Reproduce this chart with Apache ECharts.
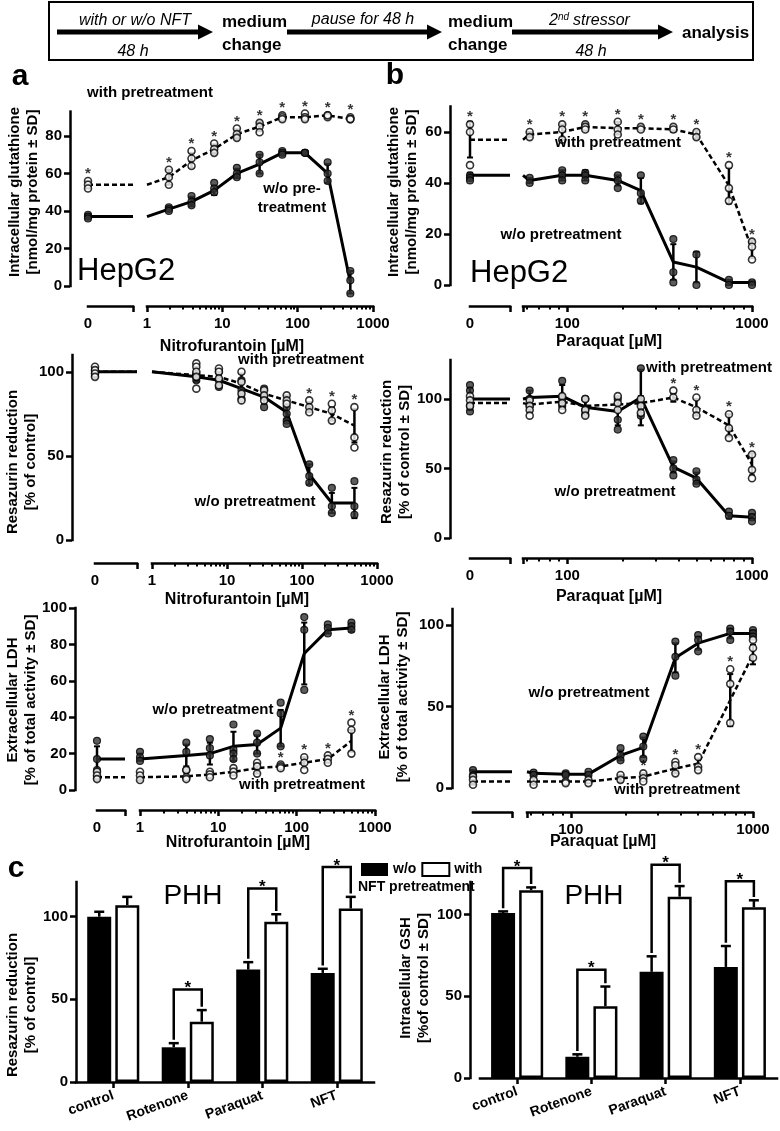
<!DOCTYPE html>
<html>
<head>
<meta charset="utf-8">
<script src="https://cdn.jsdelivr.net/npm/echarts@6.0.0/dist/echarts.min.js"></script>
<style>
html,body{margin:0;padding:0;background:#fff;}
#chart{width:780px;height:1131px;}
</style>
</head>
<body>
<div id="chart"></div>
<script>
// ======================= DATA =======================
// concentrations (µM)
const nftDoseGSH = [0, 1.95, 3.9, 7.8, 15.6, 31.25, 62.5, 125, 250, 500];
const nftDoseRes = [0, 3.9, 7.8, 15.6, 31.25, 62.5, 125, 250, 500];
const nftDoseLDH = [0, 1, 3.9, 7.8, 15.6, 31.25, 62.5, 125, 250, 500];
const pqDose = [0, 62.5, 93.75, 125, 187.5, 250, 375, 500, 750, 1000];

// x tick values
const nftTickLabels = [1, 10, 100, 1000];
const nftMajorTicks = [1, 10, 100, 1000];
const nftMinorTicks = [2,3,4,5,6,7,8,9,20,30,40,50,60,70,80,90,200,300,400,500,600,700,800,900];
const pqTickLabels = [100, 1000];
const pqMajorTicks = [57.5, 100, 1000];
const pqMinorTicks = [60,70,80,90,200,300,400,500,600,700,800,900];

// y tick values
const yTicksA1 = [0, 20, 40, 60, 80];
const yTicksB1 = [0, 20, 40, 60];
const yTicks50 = [0, 50, 100];
const yTicksA3 = [0, 20, 40, 60, 80, 100];

// a1: HepG2 GSH vs nitrofurantoin
const a1WithMean = [54, 58, 67, 73, 81, 85, 90, 90, 91, 89];
const a1WithSD   = [2, 4, 4, 2.5, 2.5, 2.5, 1, 1.5, 0.5, 0.5];
const a1WithReps = [[56,54,52],[62,58,54],[72,68,64],[76,73,71],[84,81,79],[87,85,82],[91,90,89],[92,90,89],[91,90,91],[90,89,89]];
const a1WoMean   = [37, 41, 45, 51, 60, 65, 71, 71, 60, 2];
const a1WoSD     = [1, 1, 2.5, 2.5, 2.5, 5, 1, 0.5, 5, 6];
const a1WoReps   = [[38,37,36],[42,41,40],[48,45,43],[55,52,50],[63,60,58],[70,66,60],[72,71,70],[71,71,71],[66,60,56],[8,3,-4]];
const a1Stars    = [1,1,1,1,1,1,1,1,1,1];

// a2: resazurin vs nitrofurantoin
const a2WithMean = [100, 98, 97, 93, 87, 83, 79, 75, 68];
const a2WithSD   = [2, 4, 4, 6, 3, 3, 3, 4, 10];
const a2WithReps = [[103,101,99,97],[105,103,100,97,90],[102,100,96,92],[100,94,87,83],[89,86,83],[86,83,81],[83,79,76],[81,77,71],[79,61,55]];
const a2WoMean   = [100, 97, 95, 90, 85, 76, 39, 22, 22];
const a2WoSD     = [1, 2, 3, 4, 4, 4, 6, 6, 9];
const a2WoReps   = [[101,100,99,98],[99,97,95],[100,95,91],[95,89,84],[90,85,79],[79,75,71,69],[45,38,34],[31,20,16],[35,20,15]];
const a2Stars    = [0,0,0,0,0,0,1,1,1];

// a3: LDH vs nitrofurantoin
const a3WithMean = [7, 7, 7.5, 8.5, 10, 12, 13, 15, 17, 27];
const a3WithSD   = [2, 2, 2, 2, 2, 3, 1.5, 3, 2, 6];
const a3WithReps = [[10,8,6],[10,8,5.5],[11,7,6],[10,8.5,7],[12,10,8],[15,13,9],[14,13,12],[18,15,11],[19,17,15],[37,33,20]];
const a3WoMean   = [17, 18, 19, 20, 24, 25, 34, 75, 88, 89];
const a3WoSD     = [7, 2, 6, 6, 8, 5, 10, 17, 2, 2];
const a3WoReps   = [[27,17,11,7],[21,18,16],[26,21,11],[28,23,19],[36,22,20,17],[31,26,20],[48,42,24],[95,88,55],[91,89,86],[92,90,88]];
const a3Stars    = [0,0,0,0,0,0,1,1,1,1];

// b1: GSH vs paraquat
const b1WithMean = [57, 59, 60, 62, 61.5, 61.5, 61, 59, 39, 14];
const b1WithSD   = [7, 1, 3, 1.5, 2.5, 1, 1, 1.5, 7, 3.5];
const b1WithReps = [[63,60,47],[60,58],[63,61,57],[63,62,61],[64,61,59],[62,61],[62,61],[60,58],[47,38,33],[17,15,10]];
const b1WoMean   = [43, 41, 43, 43, 41, 37, 9, 7, 1, 1];
const b1WoSD     = [1, 1, 2, 2, 2, 5, 7, 6, 1, 0.5];
const b1WoReps   = [[43,42,41],[42,40],[45,43,41],[44,43,41],[43,41,38],[43,36,33],[18,5,1],[12,0],[2,0],[1,0]];
const b1Stars    = [1,1,1,1,1,1,1,1,1,1];

// b2: resazurin vs paraquat
const b2WithMean = [97, 96, 98, 95, 96, 97, 101, 94, 81, 53];
const b2WithSD   = [3, 5, 5, 6, 5, 5, 3, 6, 8, 8];
const b2WithReps = [[102,99,95],[99,95,92,88],[102,97,92],[100,92,88],[102,97,92],[100,95,90],[106,101],[101,92,88],[89,79,72],[60,49,43]];
const b2WoMean   = [100, 101, 102, 94, 91, 101, 51, 43, 16, 15];
const b2WoSD     = [8, 5, 8, 5, 10, 20, 4, 4, 2, 2];
const b2WoReps   = [[110,106,95,91],[106,100,95],[113,100,95],[100,92,89],[100,85,78],[122,97,88],[56,50,45],[48,42,39],[19,16],[18,15,12]];
const b2Stars    = [0,0,0,0,0,0,1,1,1,1];

// b3: LDH vs paraquat
const b3WithMean = [4, 4, 4, 4, 6, 7, 12, 15, 54, 82];
const b3WithSD   = [2, 2, 1, 1, 2, 2, 3, 3, 16, 6];
const b3WithReps = [[7,5,2],[5,2],[4,3],[5,3],[8,5],[9,6,4],[16,14,9],[19,13,11],[73,64,40],[91,86,80]];
const b3WoMean   = [10, 9, 8.5, 8.5, 20, 25, 80, 89, 95, 95];
const b3WoSD     = [1, 1, 1, 1, 3, 6, 9, 4, 3, 2];
const b3WoReps   = [[11,8],[9.5,8],[9,8],[10,8],[24.5,20,17],[31.6,25.5,18],[90,80.6,69],[94,91,84],[98,96,91],[97,95,93]];
const b3Stars    = [0,0,0,0,0,1,1,1,1,0];

// c: PHH bar charts
const barCats = ['control', 'Rotenone', 'Paraquat', 'NFT'];
const c1WoMean   = [100, 21, 68, 66];
const c1WoSD     = [3, 2.5, 4.5, 2.5];
const c1WithMean = [107, 36.5, 97, 105];
const c1WithSD   = [5, 7, 4.5, 7];
const c1Bracket  = [null, 56, 117, 130];
const c2WoMean   = [101, 13, 65, 68];
const c2WoSD     = [1, 1.5, 9.5, 12.8];
const c2WithMean = [115, 44, 111, 104.5];
const c2WithSD   = [1.7, 12, 6.5, 4.3];
const c2Bracket  = [128.6, 66.3, 130.6, 120.4];

// ======================= BUILD =======================
const FONT = '"Liberation Sans", Arial, Helvetica, sans-serif';
const BLACK = '#000';
const grids = [], xAxes = [], yAxes = [], series = [], G = [];

function axisLine() { return { show: true, onZero: false, lineStyle: { color: BLACK, width: 2.5, cap: 'square' } }; }
function ticks(len, w, vals) { return { show: true, length: len, inside: false, customValues: vals, lineStyle: { color: BLACK, width: w } }; }
function labels(vals, extra) { return Object.assign({ show: true, color: BLACK, fontFamily: FONT, fontWeight: 'bold', fontSize: 15, customValues: vals }, extra || {}); }

function errRender(params, api) {
  const x = api.value(0), m = api.value(1), s = api.value(2);
  const p1 = api.coord([x, m + s]), p2 = api.coord([x, m - s]);
  const w = 3;
  return { type: 'group', children: [
    { type: 'line', shape: { x1: p1[0], y1: p1[1], x2: p2[0], y2: p2[1] }, style: { stroke: BLACK, lineWidth: 2.5 } },
    { type: 'line', shape: { x1: p1[0] - w, y1: p1[1], x2: p1[0] + w, y2: p1[1] }, style: { stroke: BLACK, lineWidth: 2 } },
    { type: 'line', shape: { x1: p2[0] - w, y1: p2[1], x2: p2[0] + w, y2: p2[1] }, style: { stroke: BLACK, lineWidth: 2 } }
  ]};
}

const LINE_BASE = { symbol: 'none', showSymbol: false, z: 2, clip: false, silent: true, animation: false };

function doseChart(L, D) {
  const g = grids.length, xi = xAxes.length, yi = yAxes.length;
  const h = L.zeroY - L.topY;
  grids.push({ left: L.seg0[0], top: L.topY, width: L.seg0[1] - L.seg0[0], height: h });
  grids.push({ left: L.seg1[0], top: L.topY, width: L.seg1[1] - L.seg1[0], height: h });
  yAxes.push({ gridIndex: g, type: 'value', min: 0, max: L.yMax, position: 'left', offset: L.seg0[0] - L.yAxisX,
    axisLine: axisLine(), axisTick: ticks(6, 2.5, D.yTicks), axisLabel: labels(D.yTicks, { margin: 8 }), splitLine: { show: false } });
  yAxes.push({ gridIndex: g + 1, type: 'value', min: 0, max: L.yMax, show: false, axisLine: { onZero: false } });
  xAxes.push({ gridIndex: g, type: 'value', min: 0, max: 1, position: 'bottom', offset: L.xOff,
    axisLine: axisLine(), axisTick: ticks(6, 2.5, [1]), axisLabel: labels([0], { margin: 10, formatter: () => '0' }), splitLine: { show: false } });
  xAxes.push({ gridIndex: g + 1, type: 'log', logBase: 10, min: L.logMin, max: L.logMax, position: 'bottom', offset: L.xOff,
    axisLine: axisLine(), axisTick: ticks(3.5, 2, D.minorTicks), axisLabel: { show: false }, splitLine: { show: false }, minorTick: { show: false } });
  xAxes.push({ gridIndex: g + 1, type: 'log', logBase: 10, min: L.logMin, max: L.logMax, position: 'bottom', offset: L.xOff,
    axisLine: { show: false, onZero: false }, axisTick: ticks(6, 2.5, D.majorTicks), axisLabel: labels(D.tickLabels, { margin: 10, formatter: v => String(Math.round(v)) }), splitLine: { show: false } });

  const left = { xAxisIndex: xi, yAxisIndex: yi };
  const right = { xAxisIndex: xi + 1, yAxisIndex: yi + 1 };
  const withL = [[0, D.withMean[0]], [1, D.withMean[0]]];
  const woL = [[0, D.woMean[0]], [1, D.woMean[0]]];
  const withR = [[L.logMin, D.withMean[0]]], woR = [[L.logMin, D.woMean[0]]];
  const errL = [], errR = [], wpL = [], wpR = [], opL = [], opR = [], stL = [], stR = [];
  D.dose.forEach((x, i) => {
    const isL = x === 0;
    if (!isL) { withR.push([x, D.withMean[i]]); woR.push([x, D.woMean[i]]); }
    (isL ? errL : errR).push([x, D.withMean[i], D.withSD[i]], [x, D.woMean[i], D.woSD[i]]);
    D.withReps[i].forEach(v => (isL ? opL : opR).push([x, v]));
    D.woReps[i].forEach(v => (isL ? wpL : wpR).push([x, v]));
    if (D.stars[i]) (isL ? stL : stR).push([x, Math.max.apply(null, D.withReps[i])]);
  });
  [[left, withL, woL, errL, wpL, opL, stL], [right, withR, woR, errR, wpR, opR, stR]].forEach(function (p) {
    const ax = p[0];
    series.push(Object.assign({ type: 'line', data: p[1], lineStyle: { color: BLACK, width: 2.5, type: [5, 3] } }, LINE_BASE, ax));
    series.push(Object.assign({ type: 'line', data: p[2], lineStyle: { color: BLACK, width: 3 } }, LINE_BASE, ax));
    series.push(Object.assign({ type: 'custom', data: p[3], renderItem: errRender, encode: { x: 0, y: 1 }, z: 3, clip: false, silent: true }, ax));
    series.push(Object.assign({ type: 'scatter', data: p[4], symbol: 'circle', symbolSize: 7, itemStyle: { color: '#333', borderColor: BLACK, borderWidth: 1.2 }, z: 4, clip: false, silent: true }, ax));
    series.push(Object.assign({ type: 'scatter', data: p[5], symbol: 'circle', symbolSize: 7, itemStyle: { color: '#fff', borderColor: BLACK, borderWidth: 1.6 }, z: 5, clip: false, silent: true }, ax));
    series.push(Object.assign({ type: 'scatter', data: p[6], symbol: 'circle', symbolSize: 1, itemStyle: { color: 'rgba(0,0,0,0)' },
      label: { show: true, formatter: '*', position: 'inside', offset: [0, -7], color: BLACK, fontSize: 15, fontWeight: 'bold', fontFamily: FONT }, z: 6, clip: false, silent: true }, ax));
  });
}

const BAR_OFF = 14;
function barErrRender(params, api) {
  const i = api.value(0), m = api.value(1), s = api.value(2), side = api.value(3);
  const c = api.coord([i, m]); const t = api.coord([i, m + s]);
  const x = c[0] + side * BAR_OFF;
  return { type: 'group', children: [
    { type: 'line', shape: { x1: x, y1: c[1], x2: x, y2: t[1] }, style: { stroke: BLACK, lineWidth: 2.5 } },
    { type: 'line', shape: { x1: x - 5, y1: t[1], x2: x + 5, y2: t[1] }, style: { stroke: BLACK, lineWidth: 2.5 } }
  ]};
}
function bracketRender(params, api) {
  const i = api.value(0);
  const top = api.coord([i, api.value(1)]), lb = api.coord([i, api.value(2)]), rb = api.coord([i, api.value(3)]);
  const xl = top[0] - BAR_OFF, xr = top[0] + BAR_OFF;
  return { type: 'group', children: [
    { type: 'polyline', shape: { points: [[xl, lb[1]], [xl, top[1]], [xr, top[1]], [xr, rb[1]]] }, style: { stroke: BLACK, lineWidth: 2.5, fill: null } },
    { type: 'text', x: top[0], y: top[1] - 1, style: { text: '*', font: 'bold 17px ' + FONT, fill: BLACK, align: 'center', verticalAlign: 'middle', textAlign: 'center', textVerticalAlign: 'middle' } }
  ]};
}

function barChart(L, D) {
  const g = grids.length, xi = xAxes.length, yi = yAxes.length;
  grids.push({ left: L.left, top: L.top, width: L.width, height: L.height });
  xAxes.push({ gridIndex: g, type: 'category', data: barCats, position: 'bottom', boundaryGap: true,
    axisLine: axisLine(), axisTick: { show: true, alignWithLabel: true, length: 6, lineStyle: { color: BLACK, width: 2.5 } },
    axisLabel: { interval: 0, rotate: 20, margin: 13, color: BLACK, fontFamily: FONT, fontWeight: 'bold', fontSize: 14 } });
  yAxes.push({ gridIndex: g, type: 'value', min: 0, max: L.yMax, position: 'left', offset: L.yOff,
    axisLine: axisLine(), axisTick: ticks(6, 2.5, yTicks50), axisLabel: labels(yTicks50, { margin: 8 }), splitLine: { show: false } });
  const ax = { xAxisIndex: xi, yAxisIndex: yi };
  series.push(Object.assign({ type: 'bar', name: 'w/o', data: D.woMean, barWidth: 24, barGap: '17%', itemStyle: { color: BLACK }, z: 2, silent: true }, ax));
  series.push(Object.assign({ type: 'bar', name: 'with', data: D.withMean, barWidth: 24, barGap: '17%', itemStyle: { color: '#fff', borderColor: BLACK, borderWidth: 2.5 }, z: 2, silent: true }, ax));
  const err = D.woMean.map((m, i) => [i, m, D.woSD[i], -1]).concat(D.withMean.map((m, i) => [i, m, D.withSD[i], 1]));
  series.push(Object.assign({ type: 'custom', data: err, renderItem: barErrRender, encode: { x: 0, y: 1 }, z: 3, silent: true }, ax));
  const br = [];
  D.bracket.forEach((t, i) => { if (t != null) br.push([i, t, D.woMean[i] + D.woSD[i] + 2, D.withMean[i] + D.withSD[i] + 2]); });
  series.push(Object.assign({ type: 'custom', data: br, renderItem: bracketRender, encode: { x: 0, y: 1 }, z: 4, clip: false, silent: true }, ax));
}

// ---------- charts ----------
doseChart({ yAxisX: 70, seg0: [88, 133], seg1: [147, 373], topY: 111.6, zeroY: 286, yMax: 93, xOff: 20, logMin: 1, logMax: 1000 },
  { dose: nftDoseGSH, yTicks: yTicksA1, tickLabels: nftTickLabels, majorTicks: nftMajorTicks, minorTicks: nftMinorTicks,
    withMean: a1WithMean, withSD: a1WithSD, withReps: a1WithReps, woMean: a1WoMean, woSD: a1WoSD, woReps: a1WoReps, stars: a1Stars });
doseChart({ yAxisX: 72, seg0: [95, 137], seg1: [152, 377], topY: 355, zeroY: 540, yMax: 110, xOff: 23, logMin: 1, logMax: 1000 },
  { dose: nftDoseRes, yTicks: yTicks50, tickLabels: nftTickLabels, majorTicks: nftMajorTicks, minorTicks: nftMinorTicks,
    withMean: a2WithMean, withSD: a2WithSD, withReps: a2WithReps, woMean: a2WoMean, woSD: a2WoSD, woReps: a2WoReps, stars: a2Stars });
doseChart({ yAxisX: 75, seg0: [97, 125], seg1: [140, 375], topY: 608, zeroY: 790, yMax: 100, xOff: 20, logMin: 1, logMax: 1000 },
  { dose: nftDoseLDH, yTicks: yTicksA3, tickLabels: nftTickLabels, majorTicks: nftMajorTicks, minorTicks: nftMinorTicks,
    withMean: a3WithMean, withSD: a3WithSD, withReps: a3WithReps, woMean: a3WoMean, woSD: a3WoSD, woReps: a3WoReps, stars: a3Stars });
doseChart({ yAxisX: 450, seg0: [470, 510], seg1: [523, 752], topY: 106.5, zeroY: 285, yMax: 70, xOff: 21, logMin: 57.5, logMax: 1000 },
  { dose: pqDose, yTicks: yTicksB1, tickLabels: pqTickLabels, majorTicks: pqMajorTicks, minorTicks: pqMinorTicks,
    withMean: b1WithMean, withSD: b1WithSD, withReps: b1WithReps, woMean: b1WoMean, woSD: b1WoSD, woReps: b1WoReps, stars: b1Stars });
doseChart({ yAxisX: 450, seg0: [470, 510], seg1: [523, 752], topY: 360, zeroY: 538, yMax: 128, xOff: 20, logMin: 57.5, logMax: 1000 },
  { dose: pqDose, yTicks: yTicks50, tickLabels: pqTickLabels, majorTicks: pqMajorTicks, minorTicks: pqMinorTicks,
    withMean: b2WithMean, withSD: b2WithSD, withReps: b2WithReps, woMean: b2WoMean, woSD: b2WoSD, woReps: b2WoReps, stars: b2Stars });
doseChart({ yAxisX: 452, seg0: [473, 512], seg1: [527, 753], topY: 609, zeroY: 788, yMax: 110, xOff: 24, logMin: 57.5, logMax: 1000 },
  { dose: pqDose, yTicks: yTicks50, tickLabels: pqTickLabels, majorTicks: pqMajorTicks, minorTicks: pqMinorTicks,
    withMean: b3WithMean, withSD: b3WithSD, withReps: b3WithReps, woMean: b3WoMean, woSD: b3WoSD, woReps: b3WoReps, stars: b3Stars });
barChart({ left: 76, width: 298, top: 882, height: 200, yMax: 121, yOff: 0 },
  { woMean: c1WoMean, woSD: c1WoSD, withMean: c1WithMean, withSD: c1WithSD, bracket: c1Bracket });
barChart({ left: 480, width: 297, top: 882, height: 196, yMax: 120, yOff: 10 },
  { woMean: c2WoMean, woSD: c2WoSD, withMean: c2WithMean, withSD: c2WithSD, bracket: c2Bracket });

// ---------- text & diagram ----------
function txt(x, y, s, o) {
  o = o || {};
  const font = (o.style || 'normal') + ' ' + (o.weight || 'bold') + ' ' + (o.size || 15) + 'px ' + FONT;
  const a = o.align || 'center';
  G.push({ type: 'text', x: x, y: y, rotation: o.rot || 0, z: 100, silent: true,
    style: { text: s, font: font, fill: BLACK, align: a, textAlign: a, verticalAlign: 'middle', textVerticalAlign: 'middle', lineHeight: o.lh || undefined } });
}
function arrow(x0, x1, y) {
  const xh = x1 - 15;
  G.push({ type: 'polygon', silent: true, shape: { points: [[x0, y - 2.5], [xh, y - 2.5], [xh, y - 7.5], [x1, y], [xh, y + 7.5], [xh, y + 2.5], [x0, y + 2.5]] }, style: { fill: BLACK } });
}
G.push({ type: 'rect', silent: true, shape: { x: 49, y: 2, width: 704, height: 58 }, style: { fill: 'none', stroke: BLACK, lineWidth: 2 } });
arrow(57, 213, 32); arrow(287, 442, 32); arrow(512, 673, 32);
const IT = { style: 'italic', weight: 'normal', size: 16 };
txt(135, 21, 'with or w/o NFT', IT);
txt(133, 52, '48 h', IT);
txt(222, 22, 'medium', { align: 'left', size: 17 });
txt(222, 45, 'change', { align: 'left', size: 17 });
txt(363, 20, 'pause for 48 h', IT);
txt(448, 22, 'medium', { align: 'left', size: 17 });
txt(448, 45, 'change', { align: 'left', size: 17 });
txt(549, 21, '2', Object.assign({ align: 'left' }, IT));
txt(558, 17, 'nd', { align: 'left', style: 'italic', weight: 'normal', size: 10 });
txt(573, 21, 'stressor', Object.assign({ align: 'left' }, IT));
txt(591, 52, '48 h', IT);
txt(682, 33, 'analysis', { align: 'left', size: 17 });

// panel letters
txt(20, 77, 'a', { size: 30 });
txt(395, 76, 'b', { size: 30 });
txt(16, 869, 'c', { size: 30 });

// y-axis titles
const ROT = { rot: Math.PI / 2, lh: 18 };
txt(24, 192, 'Intracellular glutathione\n[nmol/mg protein ± SD]', ROT);
txt(403, 192, 'Intracellular glutathione\n[nmol/mg protein ± SD]', ROT);
txt(22, 462, 'Resazurin reduction\n[% of control]', ROT);
txt(396, 452, 'Resazurin reduction\n[% of control ± SD]', ROT);
txt(22, 700, 'Extracellular LDH\n[% of total activity ± SD]', ROT);
txt(394, 697, 'Extracellular LDH\n[% of total activity ± SD]', ROT);
txt(22, 1005, 'Resazurin reduction\n[% of control]', ROT);
txt(415, 978, 'Intracellular GSH\n[%of control ± SD]', ROT);

// x-axis titles
txt(232, 347, 'Nitrofurantoin [µM]', { size: 16 });
txt(237, 600, 'Nitrofurantoin [µM]', { size: 16 });
txt(238, 843, 'Nitrofurantoin [µM]', { size: 16 });
txt(609, 342, 'Paraquat [µM]', { size: 16 });
txt(609, 597, 'Paraquat [µM]', { size: 16 });
txt(603, 842, 'Paraquat [µM]', { size: 16 });

// annotations
txt(150, 93, 'with pretreatment');
txt(292, 189, 'w/o pre-');
txt(292, 208, 'treatment');
txt(77, 271, 'HepG2', { align: 'left', weight: 'normal', size: 31 });
txt(618, 143, 'with pretreatment');
txt(561, 235, 'w/o pretreatment');
txt(470, 273, 'HepG2', { align: 'left', weight: 'normal', size: 31 });
txt(301, 360, 'with pretreatment');
txt(255, 502, 'w/o pretreatment');
txt(709, 368, 'with pretreatment');
txt(615, 492, 'w/o pretreatment');
txt(213, 710, 'w/o pretreatment');
txt(302, 785, 'with pretreatment');
txt(589, 693, 'w/o pretreatment');
txt(677, 790, 'with pretreatment');
txt(193, 896, 'PHH', { weight: 'normal', size: 28 });
txt(594, 896, 'PHH', { weight: 'normal', size: 28 });
txt(358, 887, 'NFT pretreatment', { align: 'left', size: 14 });

const chart = echarts.init(document.getElementById('chart'), null, { renderer: 'canvas' });
chart.setOption({
  animation: false,
  backgroundColor: '#fff',
  grid: grids,
  xAxis: xAxes,
  yAxis: yAxes,
  series: series,
  legend: { data: ['w/o', 'with'], left: 356, top: 857, itemWidth: 27, itemHeight: 13, itemGap: 5, selectedMode: false, icon: 'rect',
    textStyle: { fontFamily: FONT, fontWeight: 'bold', fontSize: 14, color: BLACK } },
  graphic: { elements: G }
});
</script>
</body>
</html>
